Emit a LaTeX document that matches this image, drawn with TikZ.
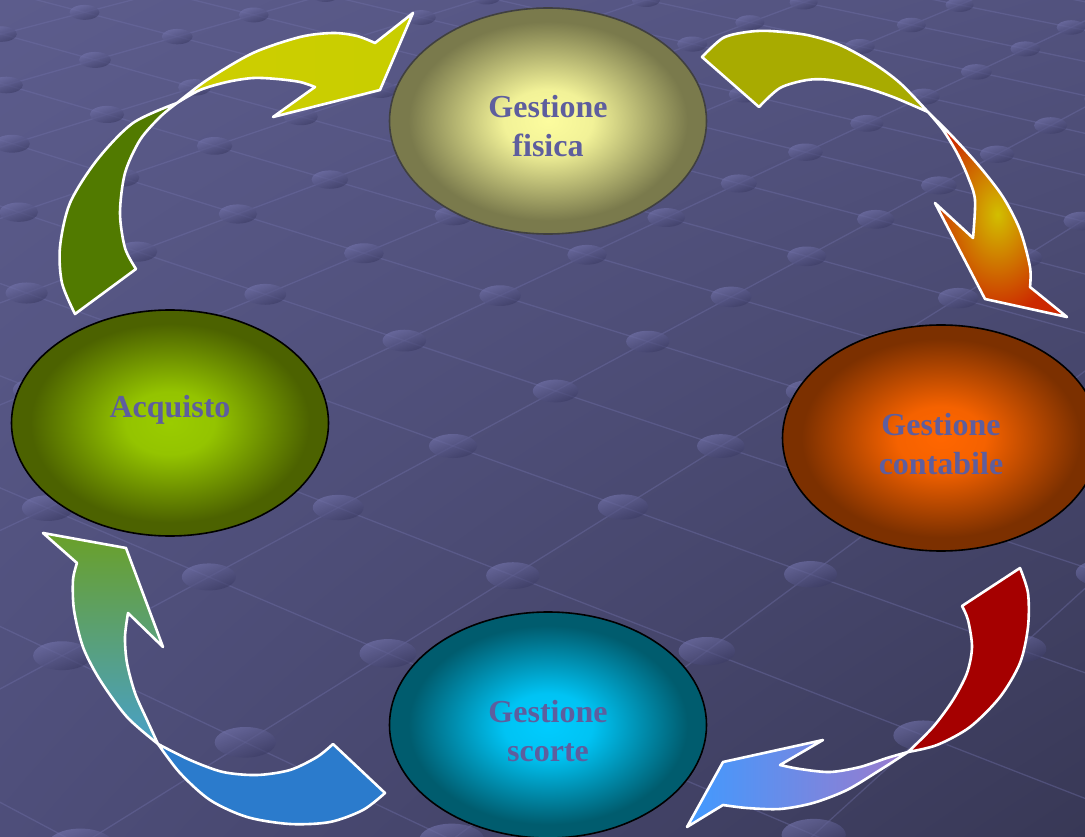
\documentclass[tikz,border=0pt]{standalone}
\usepackage{fontspec}
\setmainfont{Liberation Serif}
\usetikzlibrary{shapes.geometric,shadings}

\definecolor{bgtl}{HTML}{5C5C8C}
\definecolor{bgtr}{HTML}{52527E}
\definecolor{bgbl}{HTML}{4E4E7A}
\definecolor{bgbr}{HTML}{383856}
\definecolor{gridcol}{HTML}{7070A8}
\definecolor{dottop}{HTML}{7474AC}
\definecolor{dotbot}{HTML}{3A3A62}
\definecolor{labeltext}{HTML}{5E5E9E}

\definecolor{fisicain}{HTML}{FCFC9E}
\definecolor{fisicaout}{HTML}{7A7A4C}
\definecolor{acqin}{HTML}{9ACC00}
\definecolor{acqout}{HTML}{4C6200}
\definecolor{contin}{HTML}{FF6600}
\definecolor{contout}{HTML}{7C3000}
\definecolor{scortin}{HTML}{00CCFF}
\definecolor{scortout}{HTML}{005C6E}

\pgfdeclareradialshading{fisicaglow}{\pgfpoint{0bp}{0bp}}{color(0bp)=(fisicain); color(7bp)=(fisicain!92!fisicaout); color(22bp)=(fisicaout); color(50bp)=(fisicaout)}
\pgfdeclareradialshading{acqglow}{\pgfpoint{0bp}{0bp}}{color(0bp)=(acqin); color(7bp)=(acqin!92!acqout); color(22bp)=(acqout); color(50bp)=(acqout)}
\pgfdeclareradialshading{contglow}{\pgfpoint{0bp}{0bp}}{color(0bp)=(contin); color(7bp)=(contin!92!contout); color(22bp)=(contout); color(50bp)=(contout)}
\pgfdeclareradialshading{scortglow}{\pgfpoint{0bp}{0bp}}{color(0bp)=(scortin); color(7bp)=(scortin!92!scortout); color(22bp)=(scortout); color(50bp)=(scortout)}

\tikzset{
  oval/.style={ellipse, draw=black, line width=1.6pt, minimum width=317pt,
    minimum height=226pt, inner sep=0pt},
  ovaltext/.style={align=center, text=labeltext, inner sep=0pt,
    font=\fontsize{32}{39}\selectfont\bfseries},
  backface/.style={draw=white, line width=2.6pt, line join=round},
  frontface/.style={draw=white, line width=2.6pt, line join=round},
  gridline/.style={draw=gridcol, line width=1.3pt, opacity=0.4},
  floordot/.style={top color=dottop, bottom color=dotbot, shading angle=20, opacity=0.65},
}

% perspective floor: (u,v) -> picture point
\newcommand{\floorpt}[3]{%
  \pgfmathsetmacro{\fpw}{1+0.05628*(#1)-0.04674*(#2)}%
  \pgfmathsetmacro{\fpx}{(133.82*(#1)+140.88*(#2)+453)/\fpw}%
  \pgfmathsetmacro{\fpy}{(-33*(#1)+37.3*(#2)+446)/\fpw}%
  \coordinate (#3) at (\fpx,\fpy);%
}

\begin{document}
\begin{tikzpicture}[x=1pt, y=-1pt]
  \useasboundingbox (0,0) rectangle (1085,837);
  \clip (0,0) rectangle (1085,837);

  % background floor
  \shade[upper left=bgtl, upper right=bgtr, lower left=bgbl, lower right=bgbr]
    (0,0) rectangle (1085,837);
  \foreach \gu in {-6,...,13}{
    \floorpt{\gu}{-9}{ga}
    \floorpt{\gu}{6}{gb}
    \draw[gridline] (ga) -- (gb);
  }
  \foreach \gv in {-9,...,6}{
    \floorpt{-6}{\gv}{ga}
    \floorpt{13}{\gv}{gb}
    \draw[gridline] (ga) -- (gb);
  }
  \foreach \gu in {-6,...,13}{
    \foreach \gv in {-9,...,6}{
      \floorpt{\gu}{\gv}{gd}
      \shade[floordot] (gd) ellipse [x radius=24/\fpw, y radius=12/\fpw];
    }
  }

  % arrow Acquisto -> Gestione fisica
  \path[backface, fill={rgb,255:red,81;green,122;blue,0}]
    plot[smooth] coordinates {(75,314) (62,283) (60,247) (70,203) (97,160) (133,123) (177,103)}
    -- plot[smooth] coordinates {(177,103) (160,117) (140,140) (125,173) (120,213) (125,248) (136,269)}
    -- cycle;
  \shadedraw[frontface, left color={rgb,255:red,206;green,206;blue,0},
      middle color={rgb,255:red,140;green,172;blue,0}, right color={rgb,255:red,200;green,206;blue,0}]
    plot[smooth] coordinates {(177,103) (207,80) (253,53) (300,37) (333,33) (357,36) (375,43)}
    -- (413,13) -- (380,90) -- (273,117) -- (315,87)
    -- plot[smooth] coordinates {(315,87) (300,82) (277,79) (253,78) (227,82) (200,90) (177,103)}
    -- cycle;

  % arrow Gestione fisica -> Gestione contabile
  \path[backface, fill={rgb,255:red,168;green,171;blue,0}]
    plot[smooth] coordinates {(702,57) (723,38) (747,32) (770,31) (807,35) (840,45) (873,63) (900,83) (928,112)}
    -- plot[smooth] coordinates {(928,112) (893,97) (863,87) (830,80) (807,80) (780,88) (759,107)}
    -- cycle;
  \shadedraw[frontface, inner color={rgb,255:red,210;green,190;blue,0},
      outer color={rgb,255:red,204;green,40;blue,0}]
    plot[smooth] coordinates {(928,112) (953,137) (980,167) (1003,197) (1020,230) (1030,267) (1030,287)}
    -- (1067,317) -- (985,299) -- (935,203) -- (973,238)
    -- plot[smooth] coordinates {(973,238) (975,200) (968,177) (957,153) (943,130) (928,112)}
    -- cycle;

  % arrow Gestione contabile -> Gestione scorte
  \path[backface, fill={rgb,255:red,165;green,0;blue,0}]
    plot[smooth] coordinates {(1020,568) (1028,593) (1028,627) (1020,663) (1000,697) (970,727) (937,745) (908,752)}
    -- plot[smooth] coordinates {(908,752) (933,727) (953,700) (967,673) (972,647) (968,620) (962,606)}
    -- cycle;
  \shadedraw[frontface, left color={rgb,255:red,64;green,154;blue,255},
      right color={rgb,255:red,156;green,122;blue,204}]
    plot[smooth] coordinates {(908,752) (880,770) (847,790) (813,803) (780,809) (747,808) (723,805)}
    -- (687,827) -- (723,762) -- (823,740) -- (780,765)
    -- plot[smooth] coordinates {(780,765) (800,769) (830,772) (860,767) (887,758) (908,752)}
    -- cycle;

  % arrow Gestione scorte -> Acquisto
  \path[backface, fill={rgb,255:red,43;green,123;blue,204}]
    plot[smooth] coordinates {(333,744) (317,757) (290,770) (257,775) (223,772) (190,760) (158,744)}
    -- plot[smooth] coordinates {(158,744) (180,773) (210,800) (247,817) (290,824) (330,822) (363,810) (385,793)}
    -- cycle;
  \shadedraw[frontface, top color={rgb,255:red,106;green,160;blue,40},
      middle color={rgb,255:red,90;green,152;blue,112}, bottom color={rgb,255:red,72;green,160;blue,200}]
    plot[smooth] coordinates {(158,744) (127,717) (100,680) (83,647) (74,610) (73,580) (77,563)}
    -- (43,533) -- (126,548) -- (163,647) -- (128,613)
    -- plot[smooth] coordinates {(128,613) (125,637) (127,663) (135,693) (147,720) (158,744)}
    -- cycle;

  % the four stages
  \node[oval, shading=fisicaglow, draw=black!75] (fisica) at (548,121) {};
  \node[oval, shading=acqglow] (acquisto) at (170,423) {};
  \node[oval, shading=contglow] (contabile) at (941,438) {};
  \node[oval, shading=scortglow] (scorte) at (548,725) {};

  \node[ovaltext] (fisicatext) at (548,126) {Gestione\\fisica};
  \node[ovaltext] (acquistotext) at (170,410) {Acquisto};
  \node[ovaltext] (contabiletext) at (941,444) {Gestione\\contabile};
  \node[ovaltext] (scortetext) at (548,731) {Gestione\\scorte};
\end{tikzpicture}
\end{document}
